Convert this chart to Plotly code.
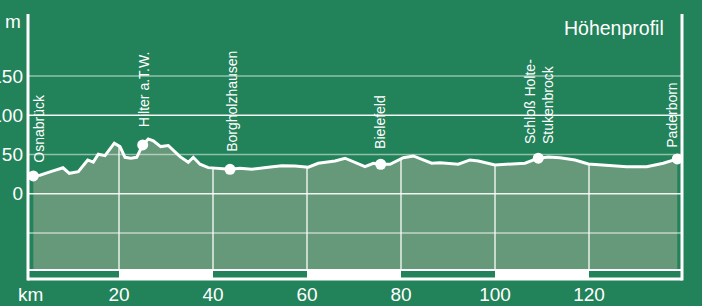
import numpy as np
import plotly.graph_objects as go

# ---------------- data ----------------
km = [1.77, 3.19, 5.32, 8.09, 9.43, 11.34, 13.34, 14.53, 15.60, 17.02, 19.0, 20.21, 21.28, 22.5,
      23.77, 25.04, 26.23, 27.30, 28.87, 30.49, 32.98, 34.74, 35.81, 37.23, 39.0, 41.49, 43.62,
      45.74, 48.23, 51.77, 54.62, 57.45, 60.28, 62.40, 65.96, 68.09, 69.85, 72.34, 74.11, 75.68,
      77.66, 80.49, 82.62, 84.74, 86.53, 88.30, 90.43, 92.19, 94.68, 96.45, 100.0, 103.55, 106.38,
      109.21, 111.34, 113.83, 117.02, 119.85, 124.47, 128.02, 132.28, 135.81, 138.79]
elev = [22.7, 23.6, 27.8, 33.0, 26.0, 28.0, 43.0, 40.2, 50.3, 48.5, 64.3, 60.0, 46.4, 45.2,
        46.4, 62.1, 69.8, 67.3, 60.0, 61.4, 47.2, 40.1, 46.4, 37.5, 33.2, 32.4, 31.1,
        32.4, 31.1, 33.7, 35.7, 35.3, 33.7, 38.8, 41.7, 45.2, 40.8, 34.4, 38.8, 37.5,
        37.5, 45.9, 48.1, 43.0, 38.8, 39.5, 38.8, 37.5, 43.0, 41.7, 36.6, 37.5, 38.8,
        45.2, 46.8, 45.9, 43.0, 37.9, 35.7, 34.4, 34.4, 38.8, 44.3]

stations = ["Osnabrück", "Hilter a.T.W.", "Borgholzhausen", "Bielefeld",
            "Schloß Holte-<br>Stukenbrock", "Paderborn"]
station_km = [1.77, 25.04, 43.62, 75.68, 109.21, 138.79]
station_elev = [22.7, 62.1, 31.1, 37.5, 45.2, 44.3]

y_ticks = [0, 50, 100, 150]
x_ticks = [20, 40, 60, 80, 100, 120]
scale_white = [(20, 40), (60, 80), (100, 120)]

# ---------------- style ----------------
BG = "#228259"
FILL = "#65997a"
WHITE = "white"
FONT = "Liberation Sans Narrow, Arial Narrow, Liberation Sans, sans-serif"
label_xshift = [6, 2, 2, 0, 0, -5]
label_yshift = [11, 16, 15, 13, 12, 9]

# pixel helpers for layout (0 m at 193.7 px, 0.785 px per m)
def ypx(p):
    return (193.7 - p) / 0.785

L, R, T, B = 28, 20, 14, 25
X_RANGE = [(L - 25) / 4.70, (702 - R - 25) / 4.70]
Y_RANGE = [ypx(306 - B), ypx(T)]
BASE = ypx(269.5)

fig = go.Figure()

# baseline for the fill
fig.add_trace(go.Scatter(x=[km[0], km[-1]], y=[BASE, BASE], mode="lines",
                         line=dict(width=0), hoverinfo="skip", showlegend=False))
# profile area
fig.add_trace(go.Scatter(x=km, y=elev, mode="lines", fill="tonexty", fillcolor=FILL,
                         line=dict(color=WHITE, width=3), showlegend=False))

# vertical grid lines only below the profile
vx, vy = [], []
for t in x_ticks:
    top = float(np.interp(t, km, elev))
    vx += [t, t, None]
    vy += [BASE, top, None]
fig.add_trace(go.Scatter(x=vx, y=vy, mode="lines",
                         line=dict(color="rgba(255,255,255,0.85)", width=1.5),
                         hoverinfo="skip", showlegend=False))

# station markers
fig.add_trace(go.Scatter(x=station_km, y=station_elev, mode="markers",
                         marker=dict(color=WHITE, size=11), showlegend=False))

shapes = []
# horizontal grid lines
for yv, op in [(150, 0.5), (100, 0.95), (50, 0.5), (0, 0.9), (-50, 0.6)]:
    shapes.append(dict(type="line", xref="paper", x0=0, x1=1, yref="y", y0=yv, y1=yv,
                       line=dict(color=f"rgba(255,255,255,{op})", width=1.5), layer="above"))
# scale strip
for a, b in scale_white:
    shapes.append(dict(type="rect", xref="x", x0=a, x1=b, yref="y", y0=ypx(279.5), y1=BASE,
                       fillcolor=WHITE, line=dict(width=0), layer="above"))
shapes.append(dict(type="line", xref="paper", x0=0, x1=1, yref="y", y0=ypx(270), y1=ypx(270),
                   line=dict(color=WHITE, width=2), layer="above"))
shapes.append(dict(type="line", xref="paper", x0=0, x1=1, yref="y", y0=ypx(279), y1=ypx(279),
                   line=dict(color=WHITE, width=3), layer="above"))
# frame left/right
for xp in [0, 1]:
    shapes.append(dict(type="line", xref="paper", x0=xp, x1=xp, yref="y", y0=ypx(280.5), y1=ypx(T),
                       line=dict(color=WHITE, width=3), layer="above"))

annotations = []
for name, sx, sy, dx, dy in zip(stations, station_km, station_elev, label_xshift, label_yshift):
    annotations.append(dict(x=sx, y=sy, xref="x", yref="y", text=name, textangle=-90,
                            showarrow=False, xanchor="center", yanchor="bottom", align="left",
                            xshift=dx, yshift=dy, font=dict(family=FONT, size=14, color=WHITE)))
PW = 702 - L - R
PH = 306 - T - B
annotations.append(dict(x=(666 - L) / PW, y=(306 - B - 15) / PH, xref="paper", yref="paper",
                        text="Höhenprofil", showarrow=False, xanchor="right", yanchor="top",
                        font=dict(family=FONT, size=19.5, color=WHITE)))
annotations.append(dict(x=(30 - L) / PW, y=(306 - B - 294) / PH, xref="paper", yref="paper",
                        text="km", showarrow=False, xanchor="center", yanchor="middle",
                        font=dict(family=FONT, size=19, color=WHITE)))
annotations.append(dict(x=(13 - L) / PW, y=(306 - B - 22) / PH, xref="paper", yref="paper",
                        text="m", showarrow=False, xanchor="center", yanchor="middle",
                        font=dict(family=FONT, size=19, color=WHITE)))

fig.update_layout(
    width=702, height=306,
    margin=dict(l=L, r=R, t=T, b=B, autoexpand=False),
    paper_bgcolor=BG, plot_bgcolor=BG,
    showlegend=False,
    shapes=shapes, annotations=annotations,
    font=dict(family=FONT, size=19, color=WHITE),
    xaxis=dict(range=X_RANGE, showgrid=False, zeroline=False, showline=False, automargin=False,
               tickvals=x_ticks, ticktext=[str(v) for v in x_ticks], ticks="",
               tickfont=dict(family=FONT, size=19, color=WHITE)),
    yaxis=dict(range=Y_RANGE, showgrid=False, zeroline=False, showline=False, automargin=False,
               tickvals=y_ticks, ticktext=[str(v) for v in y_ticks], ticks="",
               ticklabelstandoff=4,
               tickfont=dict(family=FONT, size=19, color=WHITE)),
)

fig.write_html("out.html", config={"displayModeBar": False},
               post_script="document.body.style.margin='0';")
